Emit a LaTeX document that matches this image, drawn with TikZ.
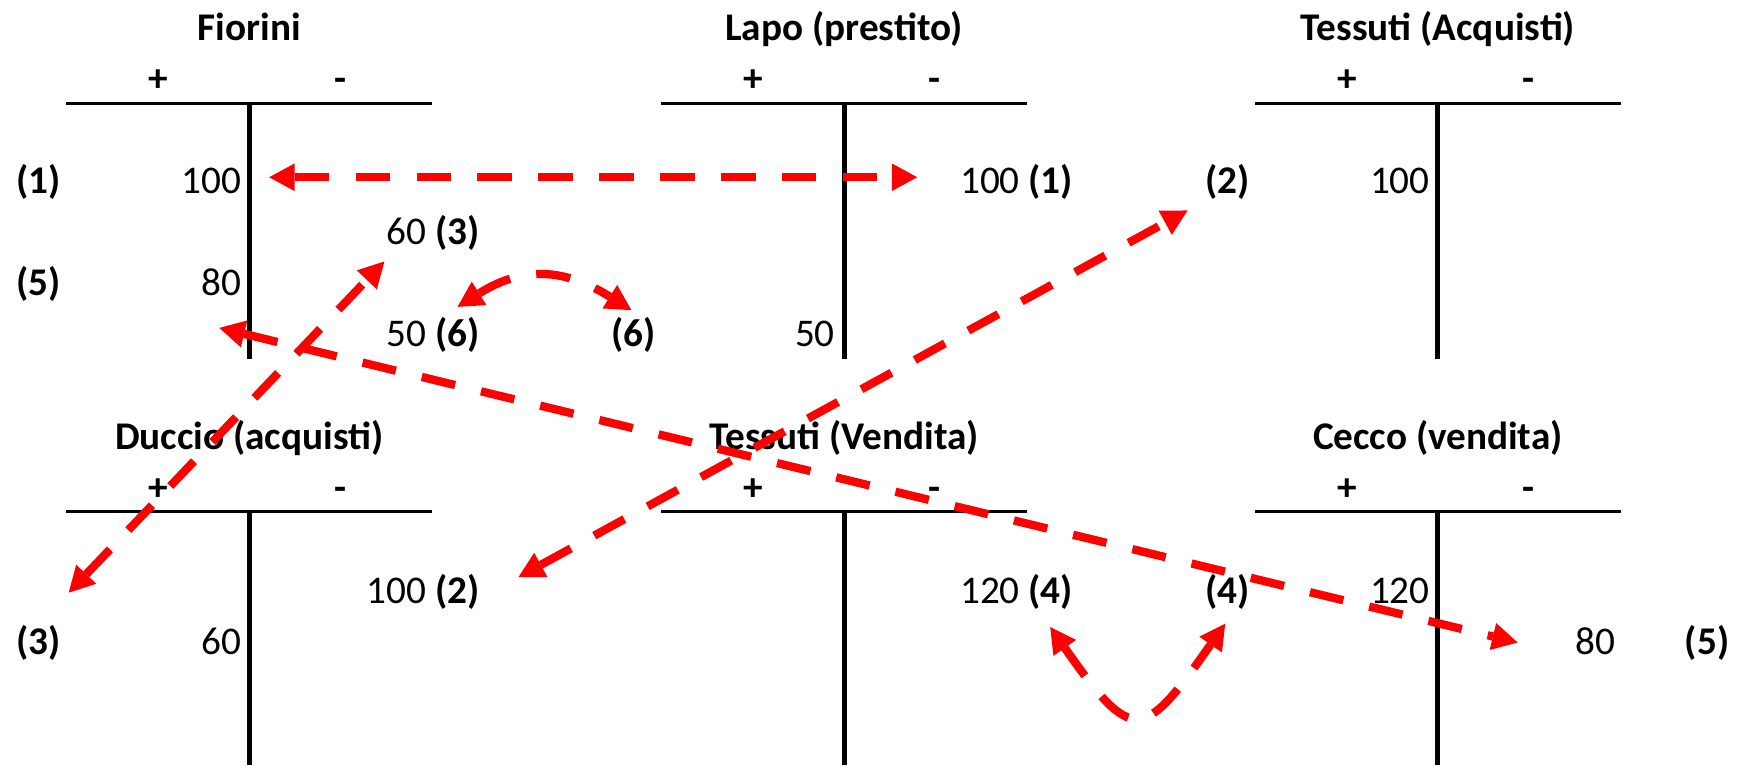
\documentclass[tikz,border=0pt]{standalone}
\usepackage{fontspec}
\setmainfont{Carlito}
\usetikzlibrary{arrows.meta}
\begin{document}
\begin{tikzpicture}[x=0.5pt,y=-0.5pt,
  txt/.style={inner sep=0pt, font=\fontsize{17.7pt}{21pt}\selectfont},
  bold/.style={inner sep=0pt, font=\fontsize{17.7pt}{21pt}\selectfont\bfseries},
  hline/.style={line width=1.35pt, black},
  vline/.style={line width=2.25pt, black},
  tip/.style={>={Triangle[length=11.5pt,width=12.5pt,line width=0pt]}},
  flow/.style={tip, draw=red, fill=none, line width=3.75pt, dash pattern=on 15.5pt off 12pt, <->}
]
\useasboundingbox (0,0) rectangle (1568,691);

% T accounts
\foreach \cx/\ty/\by/\nm/\ttext in {225/93/324/F/{Fiorini}, 762/93/324/L/{Lapo (prestito)}, 1298/93/324/T/{Tessuti (Acquisti)}, 225/462/691/D/{Duccio (acquisti)}, 762/462/691/V/{Tessuti (Vendita)}, 1298/462/691/C/{Cecco (vendita)}}{
  \coordinate (\nm-l) at ({\cx-165},\ty);
  \coordinate (\nm-r) at ({\cx+165},\ty);
  \coordinate (\nm-t) at (\cx,\ty);
  \coordinate (\nm-b) at (\cx,\by);
  \draw[hline] (\nm-l) -- (\nm-r);
  \draw[vline] (\nm-t) -- (\nm-b);
  \node[bold, anchor=base] (\nm-title) at (\cx,{\ty-56}) {\ttext};
  \node[bold, anchor=base] (\nm-plus) at ({\cx-82},{\ty-10}) {+};
  \node[bold, anchor=base] (\nm-minus) at ({\cx+82},{\ty-10}) {-};
}

% Fiorini entries
\node[bold, anchor=base] (f1l) at (35,175) {(1)};
\node[txt, anchor=base east] (f1) at (218,175) {100};
\node[txt, anchor=base east] (f2) at (433.5,221) {60 \textbf{(3)}};
\node[bold, anchor=base] (f3l) at (35,267) {(5)};
\node[txt, anchor=base east] (f3) at (218,267) {80};
\node[txt, anchor=base east] (f4) at (433.5,313) {50 \textbf{(6)}};

% Lapo entries
\node[txt, anchor=base east] (l1) at (969,175) {100 \textbf{(1)}};
\node[bold, anchor=base] (l4l) at (572,313) {(6)};
\node[txt, anchor=base east] (l4) at (754,313) {50};

% Tessuti (Acquisti) entries
\node[bold, anchor=base] (t1l) at (1108,175) {(2)};
\node[txt, anchor=base east] (t1) at (1291,175) {100};

% Duccio entries
\node[txt, anchor=base east] (d1) at (433.5,544.5) {100 \textbf{(2)}};
\node[bold, anchor=base] (d2l) at (35,591) {(3)};
\node[txt, anchor=base east] (d2) at (218,591) {60};

% Tessuti (Vendita) entries
\node[txt, anchor=base east] (v1) at (969,544.5) {120 \textbf{(4)}};

% Cecco entries
\node[bold, anchor=base] (c1l) at (1108,544.5) {(4)};
\node[txt, anchor=base east] (c1) at (1291,544.5) {120};
\node[txt, anchor=base west] (c2) at (1422,591) {80};
\node[bold, anchor=base] (c2l) at (1541,591) {(5)};

% arrow end points
\coordinate (a1s) at (243,160);
\coordinate (a1e) at (828,160);
\coordinate (a2s) at (468,521);
\coordinate (a2e) at (1072,190);
\coordinate (a3s) at (62,535);
\coordinate (a3e) at (347,236);
\coordinate (a5s) at (198,296);
\coordinate (a5e) at (1370,580);
\coordinate (a6s) at (413,277);
\coordinate (a6e) at (570,280);
\coordinate (a4s) at (948,566);
\coordinate (a4e) at (1106,563);

\draw[flow] (a1s) -- (a1e);
\draw[flow] (a2s) -- (a2e);
\draw[flow] (a3s) -- (a3e);
\draw[flow] (a5s) -- (a5e);
\draw[flow] (a6s) to[out=32,in=148,looseness=1.15] (a6e);
\draw[flow] (a4s) to[out=-55,in=-125,looseness=2.1] (a4e);
\end{tikzpicture}
\end{document}
